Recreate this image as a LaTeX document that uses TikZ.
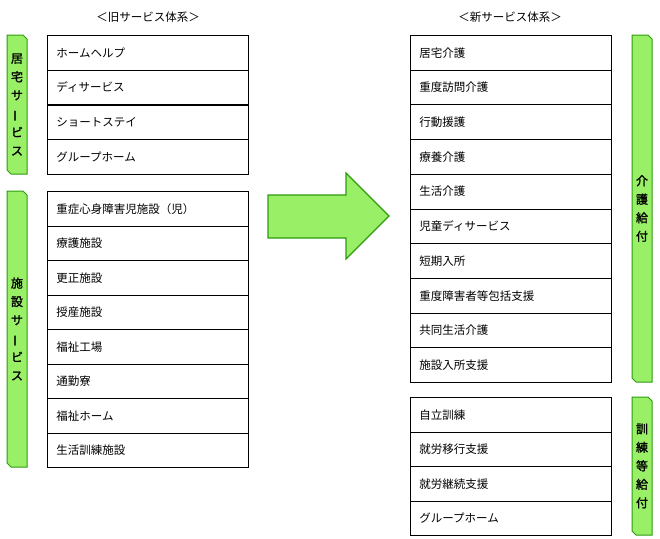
\documentclass[tikz,border=0pt]{standalone}
\usepackage{fontspec}
\newfontfamily\jp{Noto Sans CJK JP}
\newfontfamily\jpb{Noto Sans CJK JP}[FakeBold=1.5]
\definecolor{gfill}{HTML}{99F066}
\definecolor{gline}{HTML}{2E9A10}
\begin{document}
\begin{tikzpicture}[x=1pt,y=-1pt,font=\jp\fontsize{11.5}{13}\selectfont,
  cell/.style={draw=black,line width=0.8pt,minimum width=201pt,anchor=north west,text width=183pt,align=left,inner xsep=9pt,inner ysep=0pt,minimum height=34.6pt},
  side/.style={draw=gline,fill=gfill,line width=1pt},
  vtxt/.style={align=center,font=\jpb\fontsize{12}{18.5}\selectfont}]
\useasboundingbox (0,0) rectangle (660,538);
\newcommand\vb{\rotatebox[origin=c]{90}{ー}}
\node (h1) at (148,17) {＜旧サービス体系＞};
\node (h2) at (510,17) {＜新サービス体系＞};
% left tables
\foreach \t [count=\i] in {ホームヘルプ,ディサービス,ショートステイ,グループホーム}
  \node[cell] (a\i) at (47,{35+(\i-1)*34.75}) {\t};
\foreach \t [count=\i] in {重症心身障害児施設（児）,療護施設,更正施設,授産施設,福祉工場,通勤寮,福祉ホーム,生活訓練施設}
  \node[cell,minimum height=34.5pt] (b\i) at (47,{191+(\i-1)*34.5}) {\t};
\foreach \t [count=\i] in {居宅介護,重度訪問介護,行動援護,療養介護,生活介護,児童ディサービス,短期入所,重度障害者等包括支援,共同生活介護,施設入所支援}
  \node[cell,minimum height=34.7pt] (c\i) at (410,{35+(\i-1)*34.7}) {\t};
\foreach \t [count=\i] in {自立訓練,就労移行支援,就労継続支援,グループホーム}
  \node[cell,minimum height=34.5pt] (d\i) at (410,{397+(\i-1)*34.5}) {\t};
% side bars
\newcommand\sidebar[4]{%
  \draw[side] (#1,#2) -- ({#1+16},#2) -- ({#1+20},{#2+4}) -- ({#1+20},#3) -- ({#1+4},#3) -- (#1,{#3-4}) -- cycle;
  \node[vtxt] at ({#1+10},{(#2+#3)/2}) {#4};}
\sidebar{7}{35}{174}{居\\宅\\サ\\\vb\\ビ\\ス}
\sidebar{7}{191}{467}{施\\設\\サ\\\vb\\ビ\\ス}
\sidebar{632}{35}{382}{介\\護\\給\\付}
\sidebar{632}{397}{535}{訓\\練\\等\\給\\付}
% arrow
\draw[side,line width=1.3pt,line join=miter] (268,195) -- (346,195) -- (346,173) -- (389,216) -- (346,259) -- (346,238) -- (268,238) -- cycle;
\end{tikzpicture}
\end{document}
